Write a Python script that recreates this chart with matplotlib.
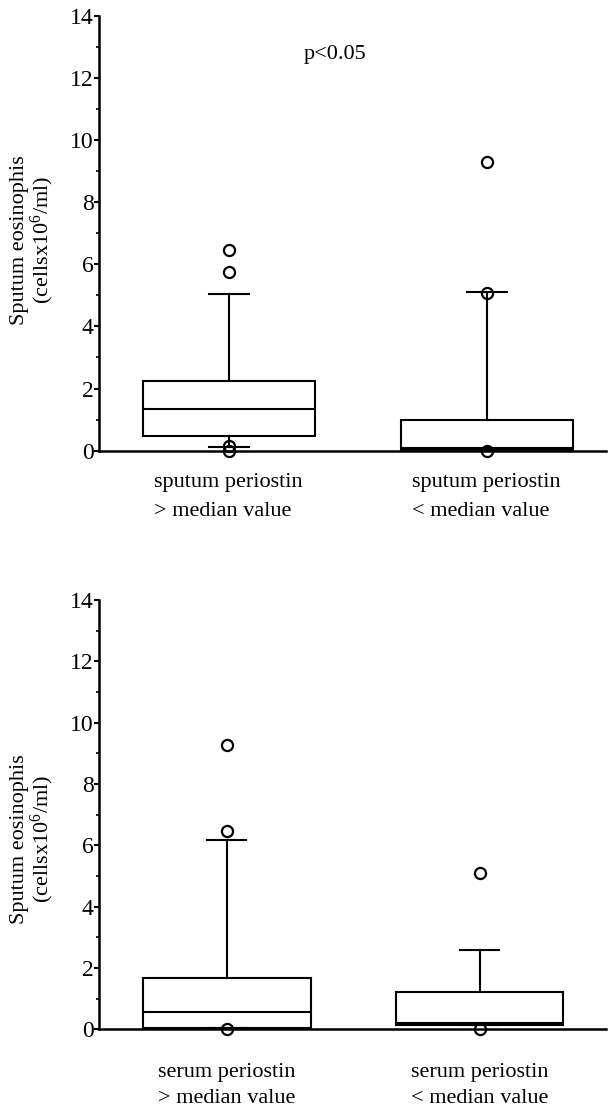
import numpy as np
import matplotlib.pyplot as plt

plt.rcParams['font.family'] = ['Liberation Serif', 'DejaVu Serif']
plt.rcParams['mathtext.fontset'] = 'custom'
plt.rcParams['mathtext.rm'] = 'Liberation Serif'

# top panel: sputum periostin groups
top_labels = ["sputum periostin\n> median value", "sputum periostin\n< median value"]
top_q1 = [0.48, 0.03]
top_med = [1.33, 0.10]
top_q3 = [2.25, 0.98]
top_whislo = [0.12, 0.03]
top_whishi = [5.05, 5.12]
top_fliers = [[6.46, 5.74, 0.15, 0.0], [9.28, 5.09, 0.0]]

# bottom panel: serum periostin groups
bot_labels = ["serum periostin\n> median value", "serum periostin\n< median value"]
bot_q1 = [0.05, 0.14]
bot_med = [0.55, 0.20]
bot_q3 = [1.66, 1.22]
bot_whislo = [0.05, 0.14]
bot_whishi = [6.17, 2.60]
bot_fliers = [[9.28, 6.46, 0.0], [5.09, 0.0]]

ylabel = "Sputum eosinophis\n(cellsx$\\mathregular{10^6}$/ml)"

fig = plt.figure(figsize=(6.13, 11.09), dpi=100)
ax1 = fig.add_axes([0.1615, 0.5936, 0.8271, 0.3922])
ax2 = fig.add_axes([0.1615, 0.0719, 0.8271, 0.3871])

panels = [
    (ax1, top_labels, top_q1, top_med, top_q3, top_whislo, top_whishi, top_fliers,
     (0.497, 2.462), 0.666, 16, 1.75, 0.484),
    (ax2, bot_labels, bot_q1, bot_med, bot_q3, bot_whislo, bot_whishi, bot_fliers,
     (0.4945, 2.50), 0.663, 24, 1.5, 0.443),
]

for ax, labels, q1, med, q3, wlo, whi, fl, xl, bw, pad, ls, ly in panels:
    stats = []
    for i in range(2):
        stats.append(dict(q1=q1[i], med=med[i], q3=q3[i], whislo=wlo[i],
                          whishi=whi[i], fliers=np.array(fl[i]), label=labels[i]))
    art = ax.bxp(stats, positions=[1, 2], widths=bw, capwidths=0.155,
                 patch_artist=True, showfliers=True,
                 boxprops=dict(facecolor='white', edgecolor='black', linewidth=1.5),
                 medianprops=dict(color='black', linewidth=1.5),
                 whiskerprops=dict(color='black', linewidth=1.5),
                 capprops=dict(color='black', linewidth=1.5),
                 flierprops=dict(marker='o', markerfacecolor='none',
                                 markeredgecolor='black', markersize=8,
                                 markeredgewidth=1.6))
    for f in art['fliers']:
        f.set_clip_on(False)
    ax.set_xlim(*xl)
    ax.set_ylim(0, 14)
    ax.set_yticks(np.arange(0, 15, 2))
    ax.set_yticks(np.arange(1, 14, 2), minor=True)
    ax.spines['top'].set_visible(False)
    ax.spines['right'].set_visible(False)
    ax.spines['left'].set_linewidth(1.8)
    ax.spines['bottom'].set_linewidth(1.8)
    ax.tick_params(axis='y', which='major', length=3.5, width=1.5, pad=0.5,
                   labelsize=17)
    ax.tick_params(axis='y', which='minor', length=2, width=1.2)
    ax.tick_params(axis='x', length=0, pad=pad, labelsize=16)
    for t in ax.get_xticklabels():
        t.set_linespacing(ls)
        t.set_multialignment('left')
    ax.set_ylabel(ylabel, fontsize=16, linespacing=1.0)
    ax.yaxis.set_label_coords(-0.085, ly)

ax1.text(1.41, 12.75, "p<0.05", fontsize=16, ha='center', va='center')

plt.savefig("out.png", dpi=100)
